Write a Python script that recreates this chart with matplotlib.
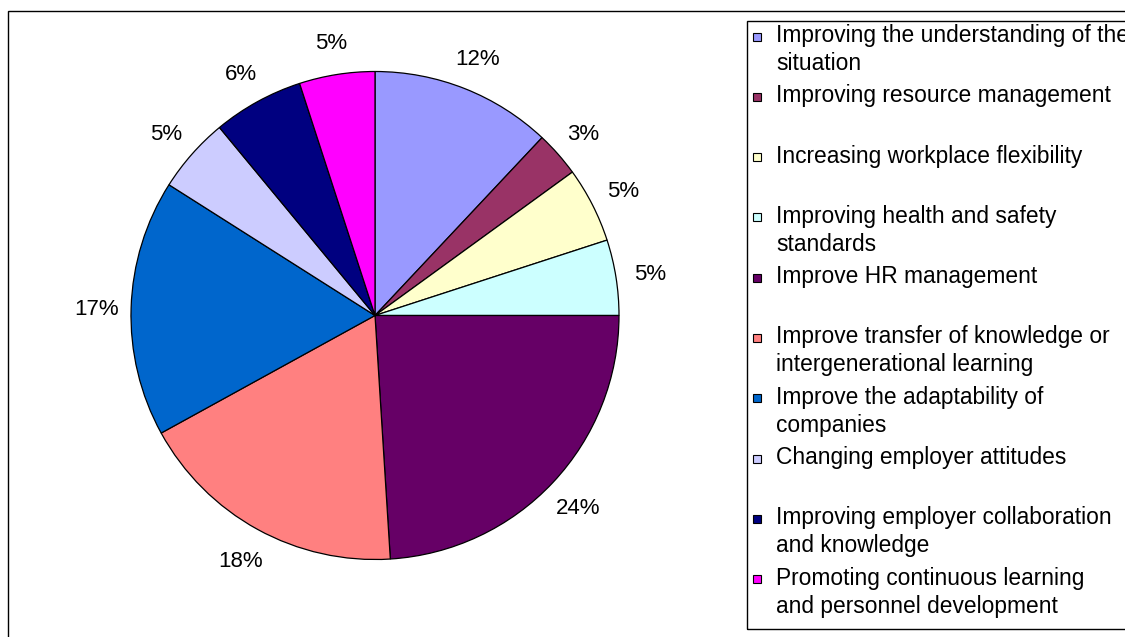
import matplotlib
matplotlib.use("Agg")
import matplotlib.pyplot as plt
from matplotlib.patches import Rectangle

categories = [
    "Improving the understanding of the\nsituation",
    "Improving resource management",
    "Increasing workplace flexibility",
    "Improving health and safety\nstandards",
    "Improve HR management",
    "Improve transfer of knowledge or\nintergenerational learning",
    "Improve the adaptability of\ncompanies",
    "Changing employer attitudes",
    "Improving employer collaboration\nand knowledge",
    "Promoting continuous learning\nand personnel development",
]
values = [12, 3, 5, 5, 24, 18, 17, 5, 6, 5]
colors = ["#9999FF", "#993366", "#FFFFCC", "#CCFFFF", "#660066",
          "#FF8080", "#0066CC", "#CCCCFF", "#000080", "#FF00FF"]

plt.rcParams['font.family'] = ['Liberation Sans', 'DejaVu Sans']

W, H = 1125, 637
fig = plt.figure(figsize=(W / 100, H / 100), dpi=100)
fig.patch.set_facecolor("white")

def fx(x):
    return x / W

def fy(y):
    return 1 - y / H

# outer chart frame (extends beyond right/bottom edges)
fig.patches.append(Rectangle((fx(7.5), fy(700)), fx(1200), (700 - 10.5) / H,
                             transform=fig.transFigure, fill=False,
                             edgecolor="black", linewidth=1.0))

# pie
cx, cy, r = 375, 315.5, 244
ax = fig.add_axes([fx(cx - r), fy(cy + r), 2 * r / W, 2 * r / H])
wedges, texts, autotexts = ax.pie(
    values, colors=colors, startangle=90, counterclock=False,
    autopct='%.0f%%', pctdistance=1.14,
    wedgeprops=dict(edgecolor="black", linewidth=0.9),
    textprops=dict(fontsize=16, color="black"))
for t in autotexts:
    t.set_va("center_baseline")
ax.set_xlim(-1, 1)
ax.set_ylim(-1, 1)
ax.set_aspect("equal")
ax.axis("off")

# legend box
fig.patches.append(Rectangle((fx(747.5), fy(628.5)), fx(500), (628.5 - 20.5) / H,
                             transform=fig.transFigure, fill=False,
                             edgecolor="black", linewidth=1.0))

step = 60.3
line_gap = 28
for i, (lab, col) in enumerate(zip(categories, colors)):
    sq_cy = 36.5 + step * i
    fig.patches.append(Rectangle((fx(753), fy(sq_cy + 4)), 8 / W, 8 / H,
                                 transform=fig.transFigure, facecolor=col,
                                 edgecolor="black", linewidth=0.8))
    for j, line in enumerate(lab.split("\n")):
        fig.text(fx(776), fy(42 + step * i + line_gap * j), line,
                 fontsize=16.4, va="baseline", ha="left")

fig.savefig("out.png", dpi=100)
